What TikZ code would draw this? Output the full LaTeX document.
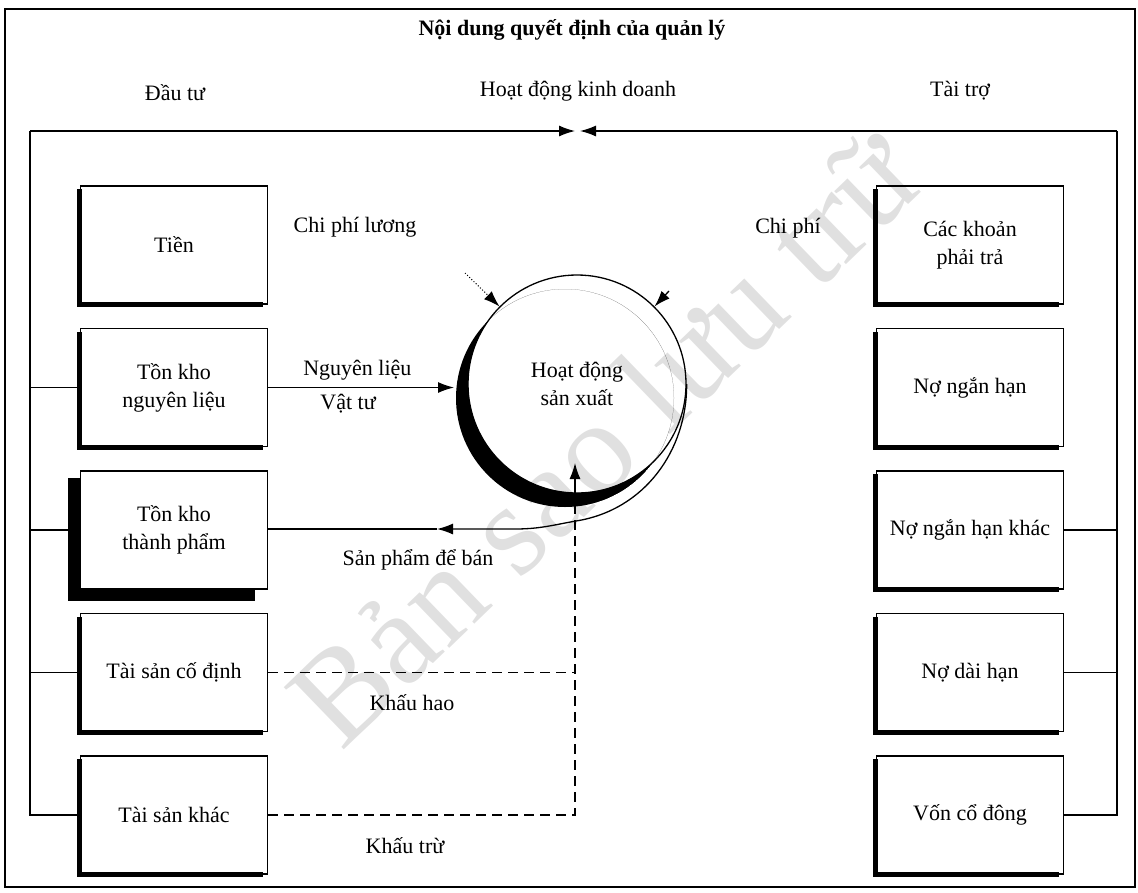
\documentclass[tikz,border=0pt]{standalone}
\usepackage{fontspec}
\setmainfont{Liberation Serif}
\usepackage{tikz}
\usetikzlibrary{arrows.meta}
\tikzstyle{block} = [draw, rectangle, minimum height=118pt, minimum width=187pt, inner sep=2pt, align=center]
\tikzstyle{edge} = [line width=5pt]
\tikzstyle{heavyedge} = [line width=12pt]
\tikzstyle{dashline} = [dash pattern=on 10pt off 6pt]
\tikzstyle{stamp} = [text=black!12, rotate=44, font=\fontsize{132}{132}\selectfont]

\begin{document}
\begin{tikzpicture}[x=1pt, y=-1pt, node distance=142.5pt, line width=1.3pt,
    >={Latex[length=16pt,width=11pt]}, font=\fontsize{22}{28}\selectfont]
    \useasboundingbox (0,0) rectangle (1138,892);

    % dấu bản sao
    \node [stamp] (stamp) at (603,437) {Bản sao lưu trữ};

    % khung ngoài
    \draw (5,9) rectangle (1135,887);

    % tiêu đề
    \node [font=\fontsize{22}{28}\selectfont\bfseries] (title) at (572,30) {Nội dung quyết định của quản lý};
    \node (dautu) at (175,93) {Đầu tư};
    \node (hdkd) at (578,91) {Hoạt động kinh doanh};
    \node (taitro) at (960,91) {Tài trợ};

    % cột trái
    \node [block] (tien) at (174,245) {Tiền};
    \node [block, below of=tien] (tknl) {Tồn kho\\nguyên liệu};
    \node [block, below of=tknl] (tktp) {Tồn kho\\thành phẩm};
    \node [block, below of=tktp] (tscd) {Tài sản cố định};
    \node [block, below of=tscd] (tsk) {Tài sản khác};

    % cột phải
    \node [block] (ckpt) at (970,245) {Các khoản\\phải trả};
    \node [block, below of=ckpt] (nnh) {Nợ ngắn hạn};
    \node [block, below of=nnh] (nnhk) {Nợ ngắn hạn khác};
    \node [block, below of=nnhk] (ndh) {Nợ dài hạn};
    \node [block, below of=ndh] (vcd) {Vốn cổ đông};

    % cạnh đậm
    \foreach \b in {tien,tknl,tscd,tsk,ckpt,nnh,nnhk,ndh,vcd}
        \draw [edge] ([yshift=-4pt]\b.north west) -- (\b.south west) -- ([xshift=-5pt]\b.south east);
    \draw [heavyedge] ([xshift=-5.5pt,yshift=-8pt]tktp.north west) -- ([xshift=-5.5pt,yshift=-5pt]tktp.south west)
        -- ([xshift=-13pt,yshift=-5pt]tktp.south east);

    % hoạt động sản xuất
    \coordinate (hdc) at (577,384);
    \coordinate (shade) at (565,398);
    \begin{scope}
        \clip (shade) circle (109);
        \fill [even odd rule] (shade) circle (109) (hdc) circle (109);
    \end{scope}
    \node [circle, draw, minimum size=218pt, inner sep=0pt, align=center] (hdsx) at (hdc) {Hoạt động\\sản xuất};

    % vòng kinh doanh
    \coordinate (lc) at (30,131);
    \coordinate (rc) at (1117,131);
    \coordinate (meetl) at (575,131);
    \coordinate (meetr) at (580,131);
    \draw [->] (lc) -- (meetl);
    \draw [->] (rc) -- (meetr);
    \draw (lc) |- (tsk.west);
    \draw (rc) |- (vcd.east);
    \draw (tknl.west) -- (tknl.west -| lc);
    \draw (tktp.west) -- (tktp.west -| lc);
    \draw (tscd.west) -- (tscd.west -| lc);
    \draw (nnhk.east) -- (nnhk.east -| rc);
    \draw (ndh.east) -- (ndh.east -| rc);

    % chi phí
    \node (cpl) at (355,227) {Chi phí lương};
    \node (cp) at (788,228) {Chi phí};
    \coordinate (cpldot) at (465,273);
    \coordinate (cpstart) at (669,291);
    \draw [->, dotted, line width=1pt] (cpldot) -- (hdsx.north west);
    \draw [->] (cpstart) -- (hdsx.north east);

    % nguyên liệu
    \coordinate (nlin) at (454,387.5);
    \draw [->] (tknl.east) -- node [pos=0.48, above=3pt] {Nguyên liệu} node [pos=0.43, below=3pt] {Vật tư} (nlin);

    % sản phẩm
    \coordinate (spbend) at (515,529);
    \coordinate (sparr) at (437,529);
    \draw [->] (hdsx.east) .. controls (687,450) and (645,510) .. (576,521)
        .. controls (553,525) and (540,529) .. (spbend) -- (sparr);
    \draw (sparr) -- (sparr -| tktp.east);
    \node (spdb) at (418,560) {Sản phẩm để bán};

    % khấu hao, khấu trừ
    \coordinate (up) at (575,500);
    \coordinate (uptip) at (575,463);
    \draw [dashline] (tsk.east) -| (up);
    \draw [dashline] (tscd.east) -- (tscd.east -| up);
    \draw [->] (up) -- (uptip);
    \node (khau) at (412,703) {Khấu hao};
    \node (ktru) at (405,846) {Khấu trừ};
\end{tikzpicture}
\end{document}
